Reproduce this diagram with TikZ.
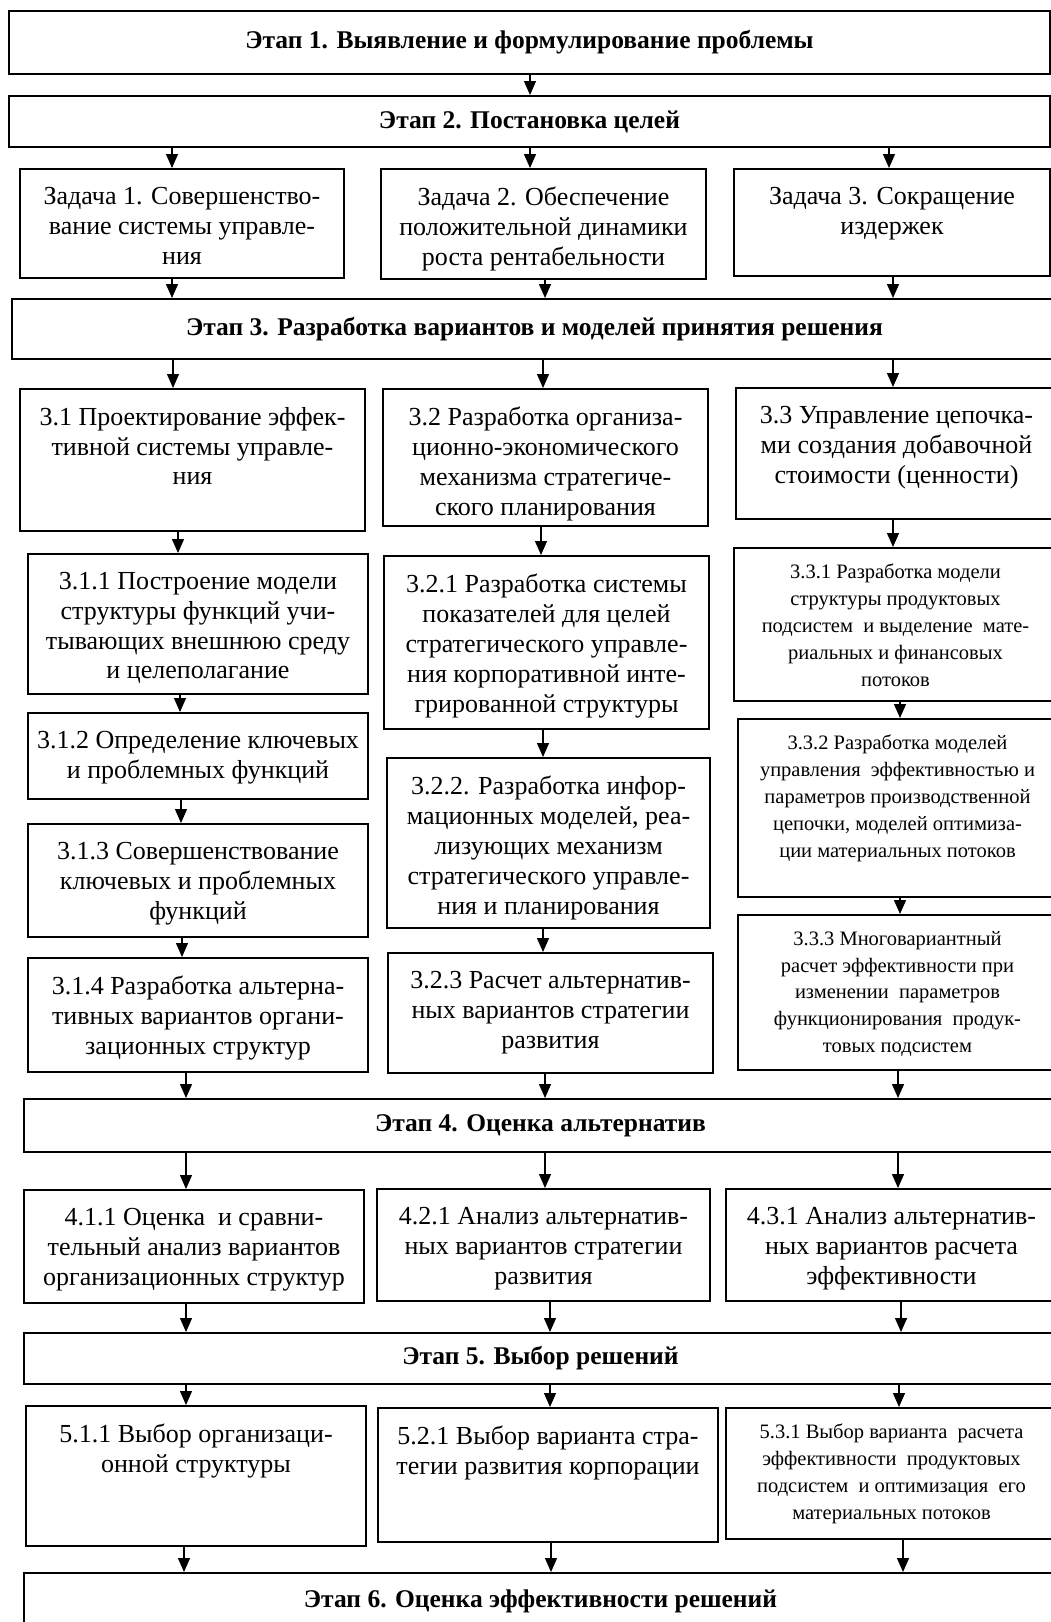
\documentclass[tikz,border=0pt]{standalone}
\usepackage{fontspec}
\setmainfont{Liberation Serif}
\usetikzlibrary{arrows.meta,positioning}

\newcommand\bodyfont{\fontsize{26}{29.8}\selectfont}
\newcommand\smallfont{\fontsize{20.5}{26.8}\selectfont}
\newcommand\headfont{\fontsize{25.5}{28}\selectfont\bfseries}
% vertical link between two boxes at a given x
\newcommand\link[3]{\draw[arr] (#1.south -| #3,0) -- (#2.north -| #3,0);}

\begin{document}
\begin{tikzpicture}[
  x=1pt, y=-1pt,
  box/.style={draw, line width=2pt, inner sep=0pt, anchor=north west},
  head/.style={box, align=center, font=\headfont},
  lbl/.style={anchor=north, inner sep=0pt, yshift=-19pt, align=center, font=\bodyfont},
  lbls/.style={anchor=north, inner sep=0pt, yshift=-17pt, align=center, font=\smallfont},
  arr/.style={-{Triangle[length=14pt,width=12pt]}, line width=1.3pt}
]
\useasboundingbox (0,0) rectangle (1051,1622);
\clip (0,0) rectangle (1051,1622);

% stages 1-2 and tasks
\node[head, minimum width=1041, minimum height=63] (e1) at (8,10) {Этап 1. Выявление и формулирование проблемы};
\node[head, minimum width=1041, minimum height=51] (e2) at (8,95) {Этап 2. Постановка целей};
\node[box, minimum width=324, minimum height=109, label={[lbl]north:{Задача 1. Совершенство-\\вание системы управле-\\ния}}] (z1) at (19,168) {};
\node[box, minimum width=325, minimum height=110, label={[lbl]north:{Задача 2. Обеспечение\\положительной динамики\\роста рентабельности}}] (z2) at (380,168) {};
\node[box, minimum width=316, minimum height=107, label={[lbl]north:{Задача 3. Сокращение\\издержек}}] (z3) at (733,168) {};

% stage 3
\node[head, minimum width=1045, minimum height=60] (e3) at (11,298) {Этап 3. Разработка вариантов и моделей принятия решения};
\node[box, minimum width=345, minimum height=142, label={[lbl]north:{3.1 Проектирование эффек-\\тивной системы управле-\\ния}}] (s31) at (19,388) {};
\node[box, minimum width=325, minimum height=137, label={[lbl]north:{3.2 Разработка организа-\\ционно-экономического\\механизма стратегиче-\\ского планирования}}] (s32) at (382,388) {};
\node[box, minimum width=321, minimum height=131, label={[lbl]north:{3.3 Управление цепочка-\\ми создания добавочной\\стоимости (ценности)}}] (s33) at (735,387) {};

\node[box, minimum width=340, minimum height=140, label={[lbl]north:{3.1.1 Построение модели\\структуры функций учи-\\тывающих внешнюю среду\\и целеполагание}}] (s311) at (27,553) {};
\node[box, minimum width=340, minimum height=86, label={[lbl]north:{3.1.2 Определение ключевых\\и проблемных функций}}] (s312) at (27,712) {};
\node[box, minimum width=340, minimum height=113, label={[lbl]north:{3.1.3 Совершенствование\\ключевых и проблемных\\функций}}] (s313) at (27,823) {};
\node[box, minimum width=340, minimum height=114, label={[lbl]north:{3.1.4 Разработка альтерна-\\тивных вариантов органи-\\зационных структур}}] (s314) at (27,957) {};

\node[box, minimum width=325, minimum height=173, label={[lbl]north:{3.2.1 Разработка системы\\показателей для целей\\стратегического управле-\\ния корпоративной инте-\\грированной структуры}}] (s321) at (383,555) {};
\node[box, minimum width=323, minimum height=170, label={[lbl]north:{3.2.2. Разработка инфор-\\мационных моделей, реа-\\лизующих механизм\\стратегического управле-\\ния и планирования}}] (s322) at (386,757) {};
\node[box, minimum width=325, minimum height=120, label={[lbl]north:{3.2.3 Расчет альтернатив-\\ных вариантов стратегии\\развития}}] (s323) at (387,952) {};

\node[box, minimum width=323, minimum height=153, label={[lbls]north:{3.3.1 Разработка модели\\структуры продуктовых\\подсистем\ \ и выделение\ \ мате-\\риальных и финансовых\\потоков}}] (s331) at (733,547) {};
\node[box, minimum width=319, minimum height=178, label={[lbls]north:{3.3.2 Разработка моделей\\управления\ \ эффективностью и\\параметров производственной\\цепочки, моделей оптимиза-\\ции материальных потоков}}] (s332) at (737,718) {};
\node[box, minimum width=319, minimum height=155, label={[lbls]north:{3.3.3 Многовариантный\\расчет эффективности при\\изменении\ \ параметров\\функционирования\ \ продук-\\товых подсистем}}] (s333) at (737,914) {};

% stage 4
\node[head, minimum width=1033, minimum height=53] (e4) at (23,1098) {Этап 4. Оценка альтернатив};
\node[box, minimum width=340, minimum height=113, label={[lbl]north:{4.1.1 Оценка\ \ и сравни-\\тельный анализ вариантов\\организационных структур}}] (a411) at (23,1189) {};
\node[box, minimum width=333, minimum height=112, label={[lbl]north:{4.2.1 Анализ альтернатив-\\ных вариантов стратегии\\развития}}] (a421) at (376,1188) {};
\node[box, minimum width=331, minimum height=112, label={[lbl]north:{4.3.1 Анализ альтернатив-\\ных вариантов расчета\\эффективности}}] (a431) at (725,1188) {};

% stage 5
\node[head, minimum width=1033, minimum height=51] (e5) at (23,1332) {Этап 5. Выбор решений};
\node[box, minimum width=340, minimum height=140, label={[lbl]north:{5.1.1 Выбор организаци-\\онной структуры}}] (v511) at (25,1405) {};
\node[box, minimum width=340, minimum height=134, label={[lbl]north:{5.2.1 Выбор варианта стра-\\тегии развития корпорации}}] (v521) at (377,1407) {};
\node[box, minimum width=331, minimum height=131, label={[lbls]north:{5.3.1 Выбор варианта\ \ расчета\\эффективности\ \ продуктовых\\подсистем\ \ и оптимизация\ \ его\\материальных потоков}}] (v531) at (725,1407) {};

% stage 6
\node[head, minimum width=1033, minimum height=56] (e6) at (23,1572) {Этап 6. Оценка эффективности решений};

% links
\link{e1}{e2}{530}
\link{e2}{z1}{172} \link{e2}{z2}{530} \link{e2}{z3}{889}
\link{z1}{e3}{172} \link{z2}{e3}{545} \link{z3}{e3}{893}
\link{e3}{s31}{173} \link{e3}{s32}{543} \link{e3}{s33}{893}
\link{s31}{s311}{178} \link{s32}{s321}{541} \link{s33}{s331}{893}
\link{s311}{s312}{180} \link{s312}{s313}{181} \link{s313}{s314}{182}
\link{s321}{s322}{543} \link{s322}{s323}{543}
\link{s331}{s332}{900} \link{s332}{s333}{900}
\link{s314}{e4}{186} \link{s323}{e4}{545} \link{s333}{e4}{898}
\link{e4}{a411}{186} \link{e4}{a421}{545} \link{e4}{a431}{898}
\link{a411}{e5}{186} \link{a421}{e5}{550} \link{a431}{e5}{901}
\link{e5}{v511}{186} \link{e5}{v521}{550} \link{e5}{v531}{899}
\link{v511}{e6}{184} \link{v521}{e6}{551} \link{v531}{e6}{903}
\end{tikzpicture}
\end{document}
